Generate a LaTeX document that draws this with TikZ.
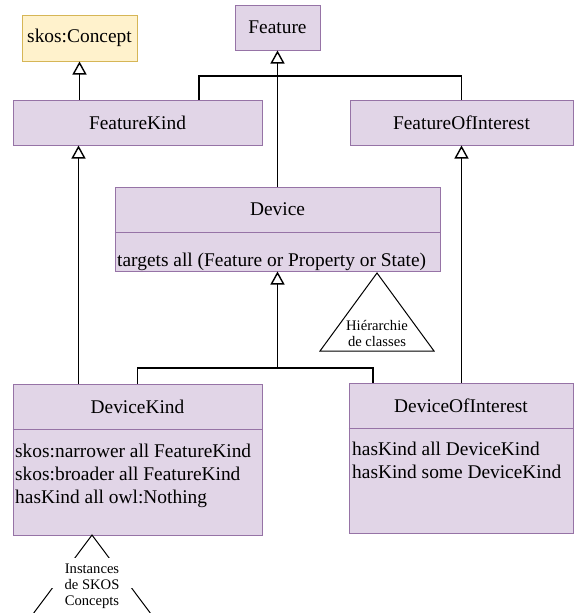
\documentclass[tikz,border=0pt]{standalone}
\usepackage{fontspec}
\setmainfont{Liberation Serif}
\usetikzlibrary{arrows.meta,calc}
\definecolor{pfill}{HTML}{E1D5E7}
\definecolor{pdraw}{HTML}{9673A6}
\definecolor{yfill}{HTML}{FFF2CC}
\definecolor{ydraw}{HTML}{D6B656}
\tikzset{
 cls/.style={draw=pdraw, fill=pfill, line width=1pt, inner sep=0pt, font=\fontsize{19.4}{23}\selectfont},
 skosbox/.style={draw=ydraw, fill=yfill, line width=1pt, inner sep=0pt, font=\fontsize{19.4}{23}\selectfont},
 link/.style={line width=1.4pt, draw=black},
 inh/.style={link, -{Triangle[open,length=13pt,width=14pt]}},
 attr/.style={anchor=base west, inner sep=0pt, font=\fontsize{19.4}{23}\selectfont},
 ttl/.style={inner sep=0pt, font=\fontsize{19.4}{23}\selectfont},
 ann/.style={line width=1pt, draw=black},
 annlbl/.style={inner sep=0pt, align=center, font=\fontsize{14.6}{16}\selectfont},
}
\begin{document}
\begin{tikzpicture}[x=1pt,y=-1pt]
\useasboundingbox (0,0) rectangle (575,613);
% boxes
\node[skosbox, minimum width=115pt, minimum height=46pt] (sc) at (79.5,38) {skos:Concept};
\node[cls, minimum width=85pt, minimum height=45pt] (feat) at (277.5,27.5) {Feature};
\node[cls, minimum width=249pt, minimum height=45pt] (fk) at (137.5,122.5) {FeatureKind};
\node[cls, minimum width=223pt, minimum height=45pt] (foi) at (461.5,122.5) {FeatureOfInterest};
% Device
\node[cls, minimum width=325pt, minimum height=84pt] (dev) at (277.5,229) {};
\draw[pdraw, line width=1pt] (dev.west |- 0,232) -- (dev.east |- 0,232);
\node[ttl] (devt) at (277.5,209.5) {Device};
\node[attr] (deva) at (117,266) {targets all (Feature or Property or State)};
% DeviceKind
\node[cls, minimum width=249pt, minimum height=151pt] (dk) at (137.5,459.5) {};
\draw[pdraw, line width=1pt] (dk.west |- 0,429) -- (dk.east |- 0,429);
\node[ttl] (dkt) at (137.5,406.5) {DeviceKind};
\node[attr] (dka1) at (15,457) {skos:narrower all FeatureKind};
\node[attr] (dka2) at (15,480) {skos:broader all FeatureKind};
\node[attr] (dka3) at (15,503) {hasKind all owl:Nothing};
% DeviceOfInterest
\node[cls, minimum width=224pt, minimum height=150pt] (doi) at (461,458) {};
\draw[pdraw, line width=1pt] (doi.west |- 0,428) -- (doi.east |- 0,428);
\node[ttl] (doit) at (461,405.5) {DeviceOfInterest};
\node[attr] (doia1) at (352,455) {hasKind all DeviceKind};
\node[attr] (doia2) at (352,478) {hasKind some DeviceKind};
% connectors
\coordinate (j1) at (277.5,76);
\coordinate (j2) at (277.5,368);
\draw[inh] (sc.south |- fk.north) -- (sc.south);
\draw[inh] (dev.north) -- (feat.south);
\draw[link] ($(fk.north)+(61.5,0)$) |- (j1) -| (foi.north);
\draw[inh] (j2) -- (dev.south);
\draw[link] (dk.north) |- (j2) -| ($(doi.north)+(-88,0)$);
\draw[inh] ($(dk.north)+(-59,0)$) -- ($(fk.south)+(-59,0)$);
\draw[inh] (foi.south |- doi.north) -- (foi.south);
% annotation triangles
\draw[ann] (377,273) -- (434,351) -- (320,351) -- cycle;
\node[annlbl, fill=white] (hier) at (377,333) {Hiérarchie\\de classes};
\draw[ann] (33,614) -- (92,535) -- (151,614);
\fill[white] (51,558) rectangle (134,588);
\node[annlbl] (inst) at (92,586) {Instances\\de SKOS\\Concepts};
\end{tikzpicture}
\end{document}
